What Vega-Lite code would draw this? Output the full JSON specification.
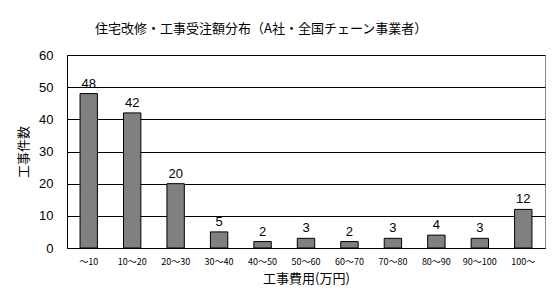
{
  "$schema": "https://vega.github.io/schema/vega-lite/v6.json",
  "width": 478,
  "height": 193,
  "autosize": {"type": "none"},
  "padding": {"left": 67, "top": 55, "right": 11, "bottom": 56},
  "background": "white",
  "title": {
    "text": "住宅改修・工事受注額分布（A社・全国チェーン事業者）",
    "anchor": "start",
    "frame": "group",
    "dx": 28,
    "offset": 13,
    "font": "Noto Sans CJK JP",
    "fontSize": 13,
    "fontWeight": "normal",
    "color": "black"
  },
  "data": {
    "values": [
      {"range": "〜10", "count": 48},
      {"range": "10〜20", "count": 42},
      {"range": "20〜30", "count": 20},
      {"range": "30〜40", "count": 5},
      {"range": "40〜50", "count": 2},
      {"range": "50〜60", "count": 3},
      {"range": "60〜70", "count": 2},
      {"range": "70〜80", "count": 3},
      {"range": "80〜90", "count": 4},
      {"range": "90〜100", "count": 3},
      {"range": "100〜", "count": 12}
    ]
  },
  "config": {
    "view": {"stroke": "#888888", "strokeWidth": 1},
    "axis": {"domainColor": "black", "labelColor": "black", "titleColor": "black", "ticks": false}
  },
  "encoding": {
    "x": {
      "field": "range",
      "type": "nominal",
      "sort": null,
      "scale": {"paddingInner": 0.6, "paddingOuter": 0.3},
      "axis": {
        "title": "工事費用(万円)",
        "labelAngle": 0,
        "labelFont": "Noto Sans CJK JP",
        "labelFontSize": 9,
        "labelPadding": 9,
        "titleFont": "Noto Sans CJK JP",
        "titleFontSize": 13,
        "titleFontWeight": "normal",
        "titlePadding": 6,
        "grid": false
      }
    },
    "y": {
      "field": "count",
      "type": "quantitative",
      "scale": {"domain": [0, 60]},
      "axis": {
        "title": "工事件数",
        "values": [0, 10, 20, 30, 40, 50, 60],
        "grid": true,
        "gridColor": "black",
        "gridOpacity": 1,
        "labelFont": "Liberation Sans",
        "labelFontSize": 13,
        "labelPadding": 14,
        "titleFont": "Noto Sans CJK JP",
        "titleFontSize": 13,
        "titleFontWeight": "normal",
        "titlePadding": 8
      }
    }
  },
  "layer": [
    {
      "mark": {"type": "bar", "fill": "#808080", "stroke": "black", "strokeWidth": 1}
    },
    {
      "mark": {"type": "text", "baseline": "bottom", "dy": -3, "font": "Liberation Sans", "fontSize": 13, "color": "black"},
      "encoding": {"text": {"field": "count", "type": "quantitative"}}
    }
  ]
}
